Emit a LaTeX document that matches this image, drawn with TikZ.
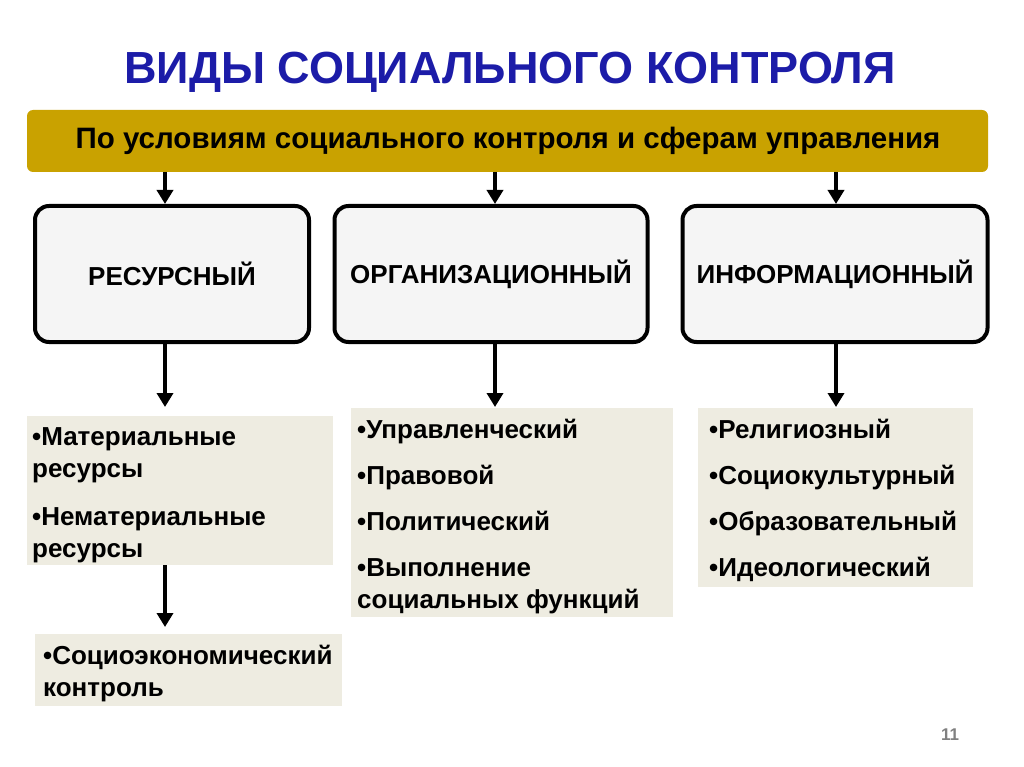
\documentclass[tikz,border=0pt]{standalone}
\usepackage{fontspec}
\setmainfont{Liberation Sans}
\usetikzlibrary{arrows.meta}
\definecolor{titleblue}{HTML}{1C1CA8}
\definecolor{gold}{HTML}{C9A200}
\definecolor{beige}{HTML}{EEECE1}
\tikzset{
  kind/.style={draw,line width=4pt,rounded corners=14pt,fill=gray!8,font=\fontsize{26}{30}\selectfont\bfseries},
  list/.style={anchor=north west,align=left,inner sep=0pt,font=\fontsize{26}{32}\selectfont\bfseries},
  down/.style={line width=3.5pt,-{Triangle[length=14pt,width=16pt]}}
}
\begin{document}
\begin{tikzpicture}[x=1pt,y=-1pt]
\useasboundingbox (0,0) rectangle (1024,767);
\node[font=\fontsize{45}{50}\selectfont\bfseries,text=titleblue] (title) at (510,72) {ВИДЫ СОЦИАЛЬНОГО КОНТРОЛЯ};
\fill[gold,rounded corners=6pt] (27,110) rectangle (988,172);
\node[font=\fontsize{29.5}{34}\selectfont\bfseries] (bar) at (508,141) {По условиям социального контроля и сферам управления};
\coordinate (b1) at (165,172);
\coordinate (b2) at (495,172);
\coordinate (b3) at (836,172);
% kinds
\node[kind,minimum width=274pt,minimum height=136pt] (res) at (172,274) {РЕСУРСНЫЙ};
\node[kind,minimum width=313pt,minimum height=136pt] (org) at (491,274) {ОРГАНИЗАЦИОННЫЙ};
\node[kind,minimum width=305pt,minimum height=136pt] (inf) at (835,274) {ИНФОРМАЦИОННЫЙ};
\draw[down] (b1) -- (b1|-res.north);
\draw[down] (b2) -- (b2|-org.north);
\draw[down] (b3) -- (b3|-inf.north);
% lists
\fill[beige] (27,416) rectangle (333,565);
\fill[beige] (351,408) rectangle (673,617);
\fill[beige] (698,408) rectangle (973,587);
\fill[beige] (35,634) rectangle (342,706);
\node[list] (l1) at (32,427) {•Материальные\\ ресурсы\\[16pt] •Нематериальные\\ ресурсы};
\node[list] (l2) at (357,419) {•Управленческий\\[14pt] •Правовой\\[14pt] •Политический\\[14pt] •Выполнение\\ социальных функций};
\node[list] (l3) at (709,419) {•Религиозный\\[14pt] •Социокультурный\\[14pt] •Образовательный\\[14pt] •Идеологический};
\node[list] (l4) at (43,645) {•Социоэкономический\\ контроль};
\coordinate (e1) at (165,407);
\coordinate (e2) at (495,407);
\coordinate (e3) at (836,407);
\coordinate (s1) at (165,565);
\coordinate (s2) at (165,627);
\draw[down] (res.south-|e1) -- (e1);
\draw[down] (org.south-|e2) -- (e2);
\draw[down] (inf.south-|e3) -- (e3);
\draw[down] (s1) -- (s2);
\node[text=gray,font=\fontsize{17}{20}\selectfont\bfseries] (page) at (950,735) {11};
\end{tikzpicture}
\end{document}
